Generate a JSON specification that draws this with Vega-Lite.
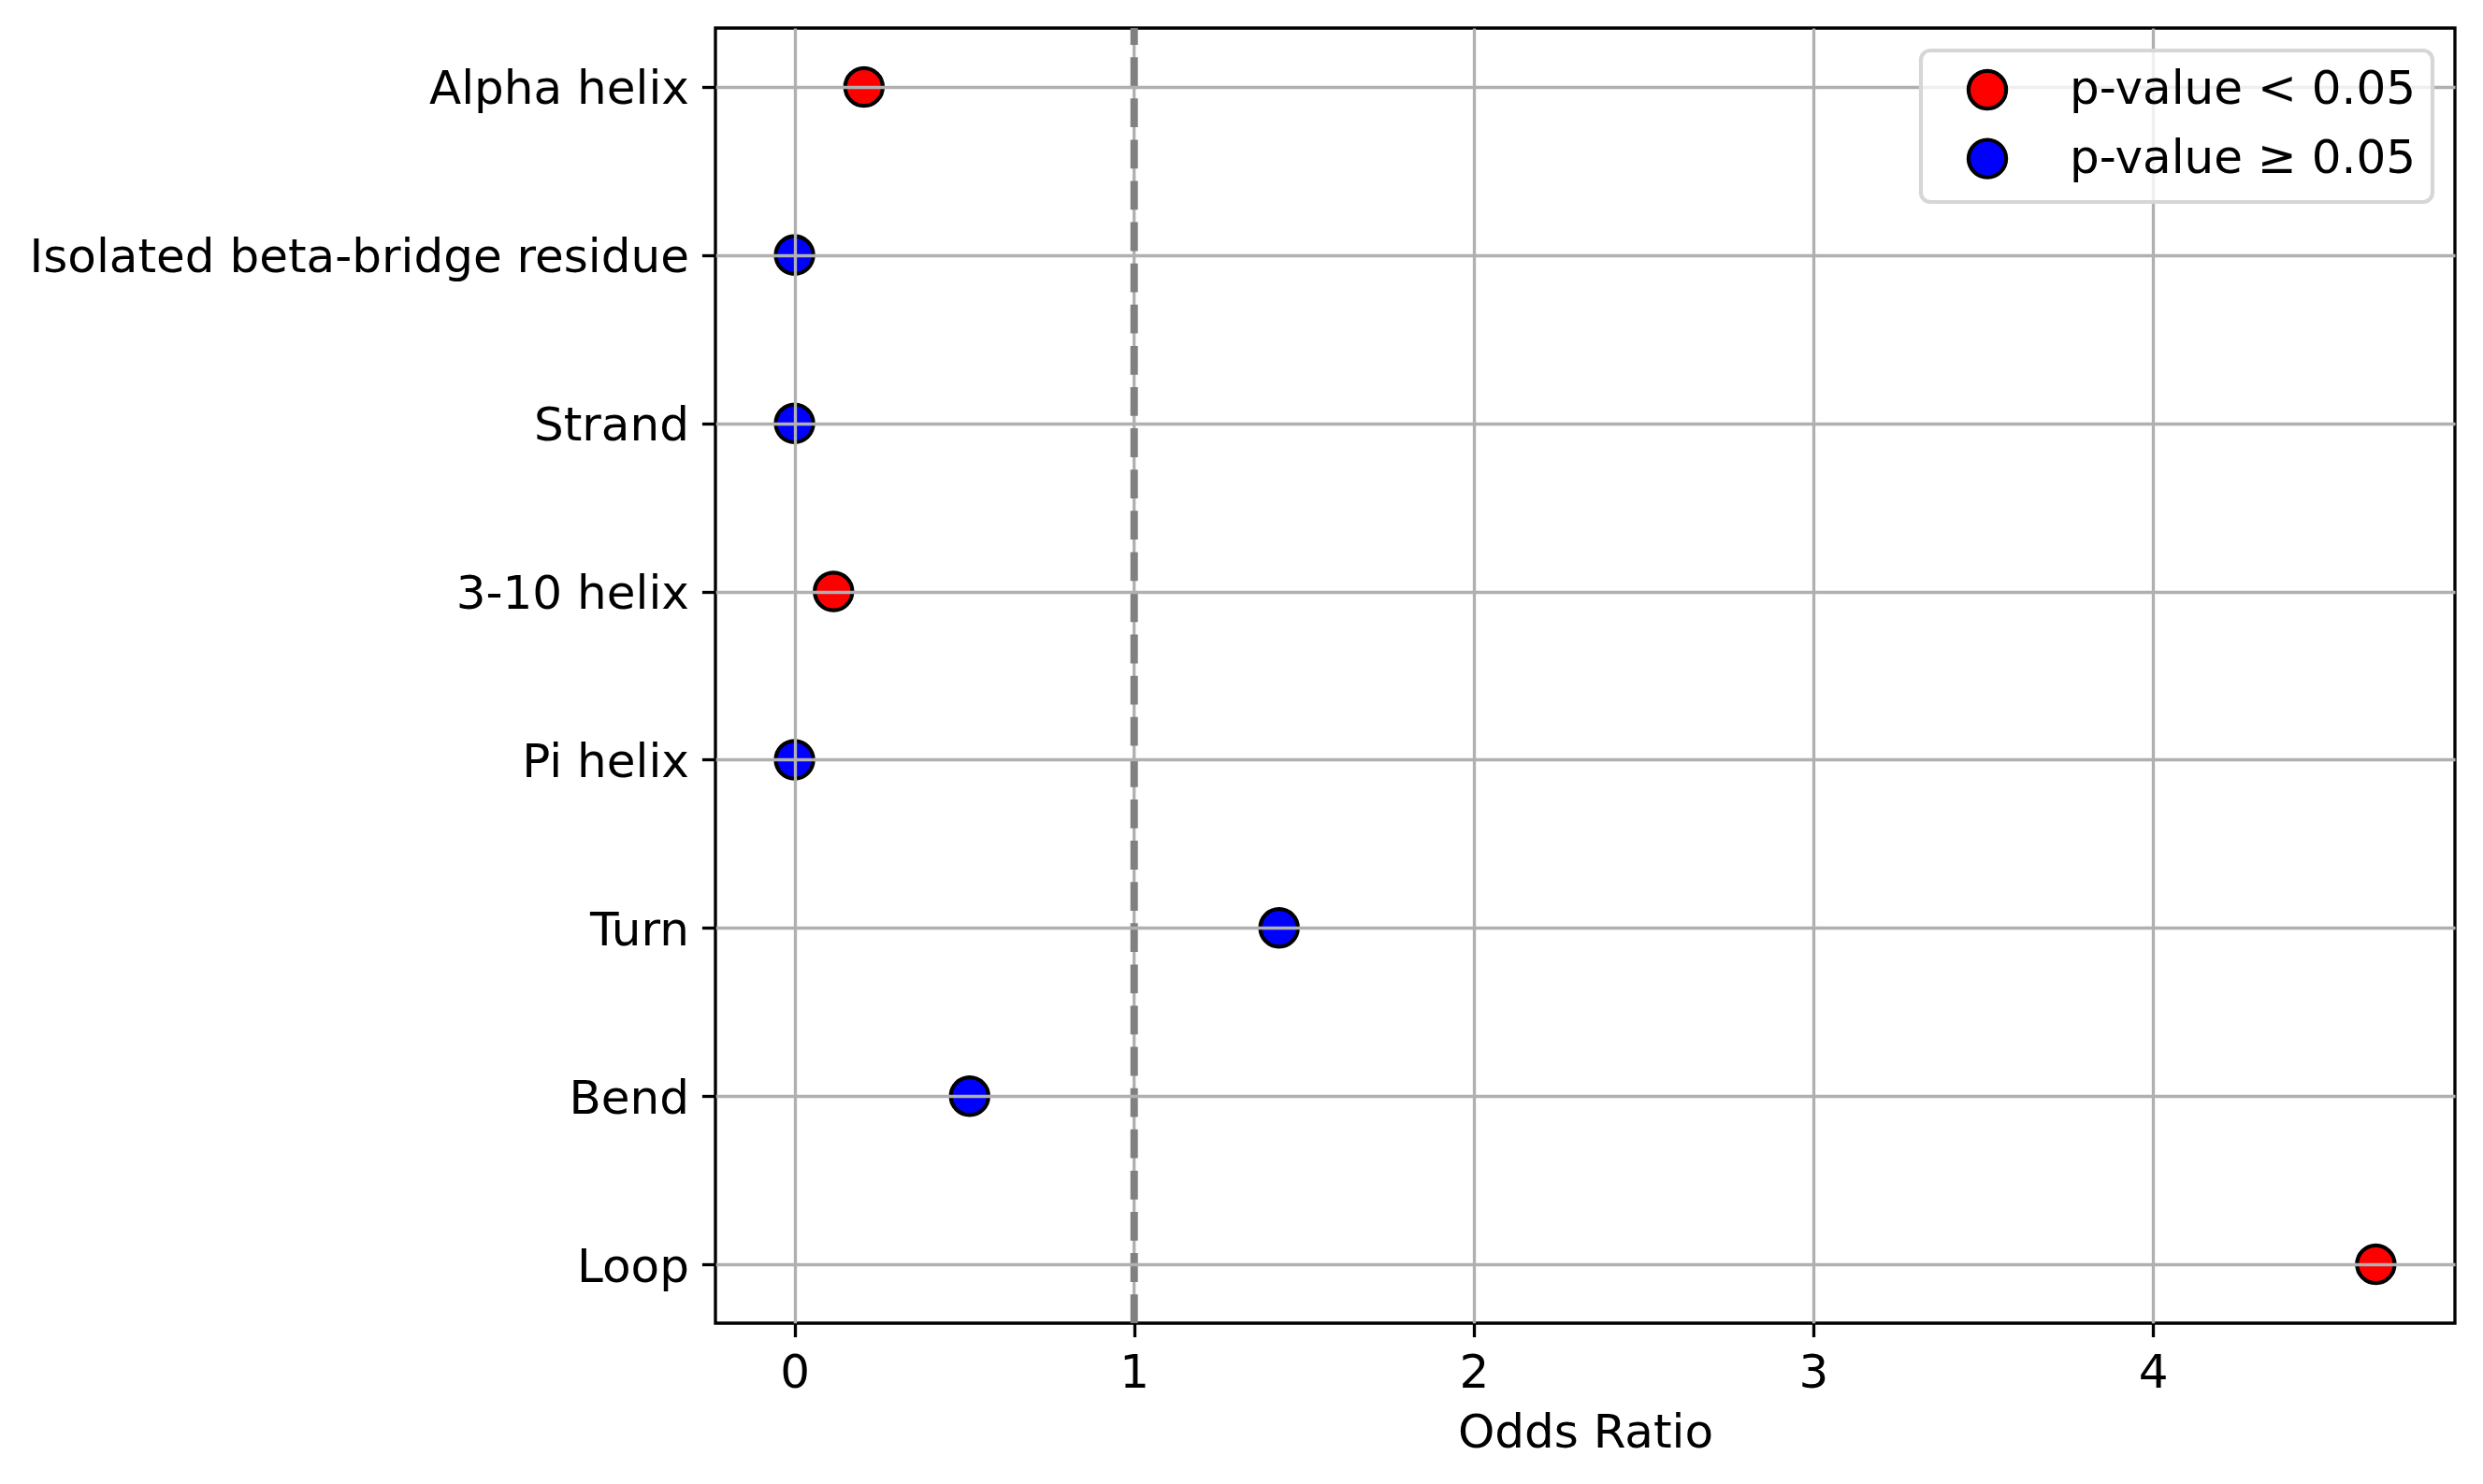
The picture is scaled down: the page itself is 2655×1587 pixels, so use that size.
{
  "$schema": "https://vega.github.io/schema/vega-lite/v6.json",
  "width": 1860,
  "height": 1385,
  "autosize": {"type": "none"},
  "padding": {"left": 765, "top": 30, "right": 30, "bottom": 172},
  "background": "white",
  "config": {
    "font": "DejaVu Sans",
    "view": {"stroke": "black", "strokeWidth": 3.33},
    "legend": {
      "orient": "top-right",
      "offset": 24,
      "zindex": 2,
      "padding": 17,
      "fillColor": "rgba(255,255,255,0.8)",
      "strokeColor": "#d6d6d6",
      "strokeWidth": 4.17,
      "cornerRadius": 10,
      "symbolType": "circle",
      "symbolSize": 1620,
      "symbolStrokeColor": "black",
      "symbolStrokeWidth": 4.17,
      "symbolOpacity": 1,
      "symbolOffset": 29,
      "labelOffset": 63,
      "labelFontSize": 50,
      "labelColor": "black",
      "labelFont": "DejaVu Sans",
      "rowPadding": 15.6,
      "labelLimit": 0
    }
  },
  "layer": [
    {
      "data": {"values": [{"ref": 1}]},
      "mark": {"type": "rule", "color": "#b0b0b0", "strokeWidth": 3.33},
      "encoding": {
        "x": {"field": "ref", "type": "quantitative", "title": "Odds Ratio"}
      }
    },
    {
      "data": {
        "values": [
          {"category": "Alpha helix", "odds_ratio": 0.2045, "significance": "p-value < 0.05"},
          {"category": "Isolated beta-bridge residue", "odds_ratio": 0, "significance": "p-value ≥ 0.05"},
          {"category": "Strand", "odds_ratio": 0, "significance": "p-value ≥ 0.05"},
          {"category": "3-10 helix", "odds_ratio": 0.1148, "significance": "p-value < 0.05"},
          {"category": "Pi helix", "odds_ratio": 0, "significance": "p-value ≥ 0.05"},
          {"category": "Turn", "odds_ratio": 1.4267, "significance": "p-value ≥ 0.05"},
          {"category": "Bend", "odds_ratio": 0.5156, "significance": "p-value ≥ 0.05"},
          {"category": "Loop", "odds_ratio": 4.656, "significance": "p-value < 0.05"}
        ]
      },
      "mark": {
        "type": "point",
        "shape": "circle",
        "filled": true,
        "size": 1620,
        "stroke": "black",
        "strokeWidth": 4.17,
        "opacity": 1
      },
      "encoding": {
        "x": {
          "field": "odds_ratio",
          "type": "quantitative",
          "title": "Odds Ratio",
          "scale": {"domain": [-0.2328, 4.889], "nice": false, "zero": false},
          "axis": {
            "values": [0, 1, 2, 3, 4],
            "format": "d",
            "grid": true,
            "gridColor": {"condition": {"test": "datum.value === 1", "value": "transparent"}, "value": "#b0b0b0"},
            "gridWidth": 3.33,
            "domain": false,
            "ticks": true,
            "tickColor": "black",
            "tickWidth": 3.33,
            "tickSize": 14.6,
            "labelFontSize": 50,
            "labelColor": "black",
            "labelFont": "DejaVu Sans",
            "labelPadding": 14,
            "labelFlush": false,
            "titleFontSize": 50,
            "titleFontWeight": "normal",
            "titleColor": "black",
            "titleFont": "DejaVu Sans",
            "titlePadding": 14,
            "zindex": 1
          }
        },
        "y": {
          "field": "category",
          "type": "nominal",
          "sort": ["Alpha helix", "Isolated beta-bridge residue", "Strand", "3-10 helix", "Pi helix", "Turn", "Bend", "Loop"],
          "scale": {"type": "point", "padding": 0.35},
          "axis": {
            "title": null,
            "grid": true,
            "gridColor": "#b0b0b0",
            "gridWidth": 3.33,
            "domain": false,
            "tickColor": "black",
            "tickWidth": 3.33,
            "tickSize": 14.6,
            "labelFontSize": 50,
            "labelColor": "black",
            "labelFont": "DejaVu Sans",
            "labelPadding": 14,
            "labelOffset": 3,
            "labelLimit": 0,
            "zindex": 1
          }
        },
        "fill": {
          "field": "significance",
          "type": "nominal",
          "scale": {"domain": ["p-value < 0.05", "p-value ≥ 0.05"], "range": ["#ff0000", "#0000ff"]},
          "legend": {"title": null, "zindex": 2}
        }
      }
    },
    {
      "data": {"values": [{"ref": 1}]},
      "mark": {"type": "rule", "color": "#808080", "strokeWidth": 8, "strokeDash": [30.8, 13.3], "strokeDashOffset": 12.9},
      "encoding": {
        "x": {"field": "ref", "type": "quantitative", "title": "Odds Ratio"}
      }
    }
  ]
}
